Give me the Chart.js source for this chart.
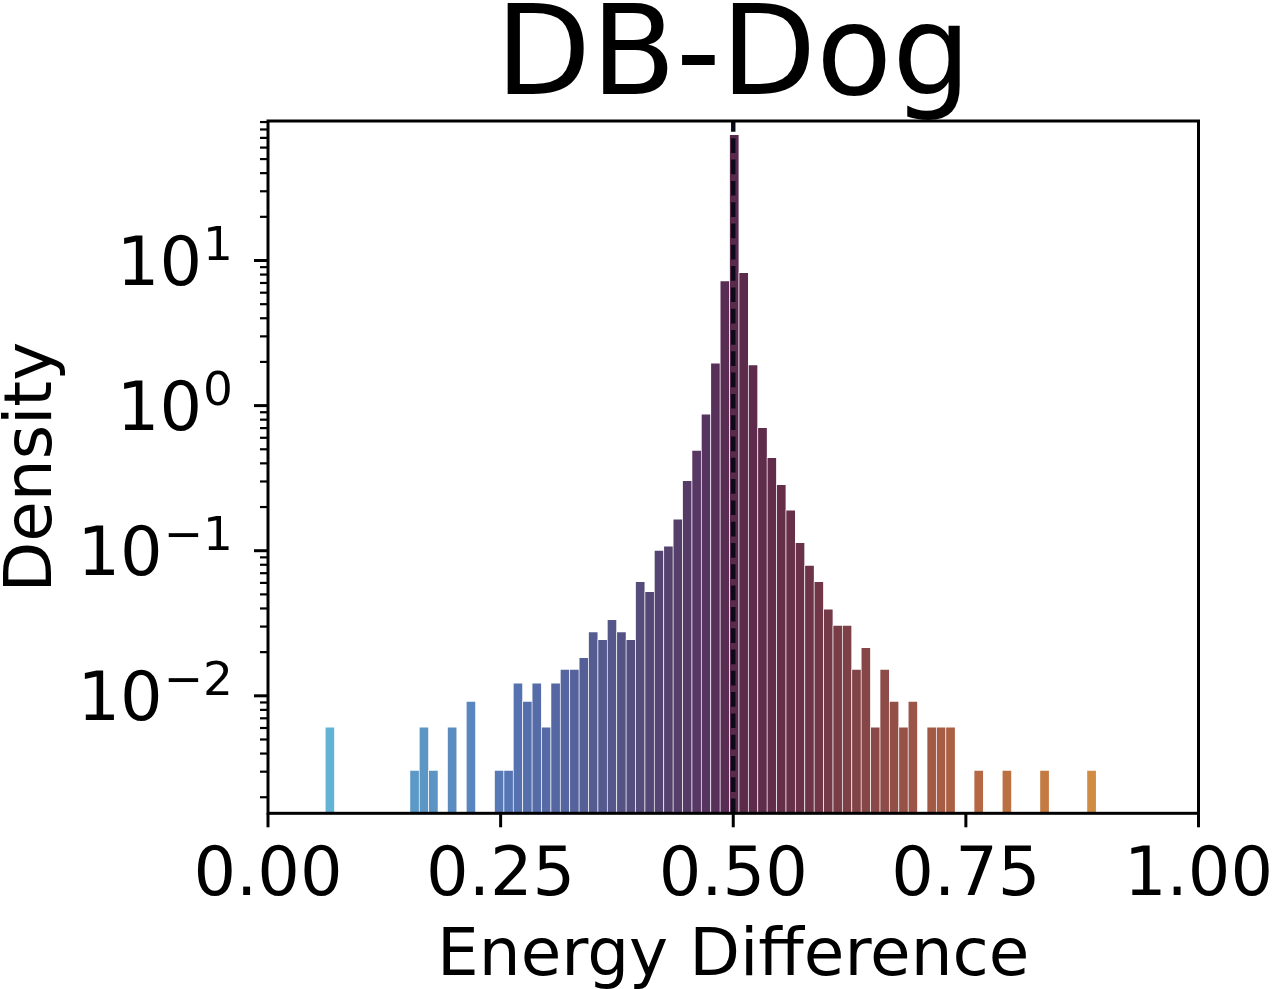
<!DOCTYPE html>
<html>
<head>
<meta charset="utf-8">
<title>DB-Dog</title>
<script src="https://cdn.jsdelivr.net/npm/chart.js@4.4.0/dist/chart.umd.min.js"></script>
<style>
  html, body { margin: 0; padding: 0; background: #fff; }
  #wrap { width: 1273px; height: 989px; position: relative; }
</style>
</head>
<body>
<div id="wrap"><canvas id="chart"></canvas></div>
<script>
// histogram of energy difference, 82 equal bins
const binStart = 0.06116;
const binWidth = 0.010105;
const density = [
  0.00612, null, null, null, null, null, null, null, null, 0.00308,
  0.00612, 0.00308, null, 0.00612, null, 0.00921, null, null, 0.00308, 0.00308,
  0.0123, 0.00921, 0.0123, 0.00612, 0.0123, 0.0153, 0.0153, 0.0184, 0.0277, 0.0245,
  0.0337, 0.0277, 0.0245, 0.0616, 0.0524, 0.101, 0.108, 0.166, 0.306, 0.493,
  0.879, 1.97, 7.26, 74.1, 8.29, 1.92, 0.708, 0.440, 0.287, 0.191,
  0.114, 0.0797, 0.0615, 0.0398, 0.0307, 0.0307, 0.0153, 0.0216, 0.00612, 0.0153,
  0.00921, 0.00612, 0.00921, null, 0.00612, 0.00612, 0.00612, null, null, 0.00308,
  null, null, 0.00308, null, null, null, 0.00308, null, null, null,
  null, 0.00308
];

const xTicks = [0, 0.25, 0.5, 0.75, 1];
const xTickLabels = ["0.00", "0.25", "0.50", "0.75", "1.00"];
const yTickExps = [-2, -1, 0, 1];
const yTickSups = ["\u22122", "\u22121", "0", "1"];
const refLine = 0.5;
const yMin = 0.00155;
const yMax = 91.5;

// colour ramp along x (light blue -> plum -> orange)
const cmap = [
  [0.066, "#63b3d5"], [0.167, "#5b96c5"], [0.218, "#5986c0"], [0.268, "#5571b0"],
  [0.319, "#55659f"], [0.369, "#55568a"], [0.420, "#554572"], [0.470, "#573460"],
  [0.501, "#5a2a4d"], [0.541, "#622d4a"], [0.582, "#6d3448"], [0.622, "#7d4047"],
  [0.662, "#8e4c48"], [0.703, "#9f5746"], [0.733, "#ab6044"], [0.763, "#b56843"],
  [0.794, "#bb7042"], [0.834, "#c47b42"], [0.885, "#d08c42"]
];

function hexRgb(h) {
  const n = parseInt(h.slice(1), 16);
  return [(n >> 16) & 255, (n >> 8) & 255, n & 255];
}

function colorAt(v) {
  if (v <= cmap[0][0]) return cmap[0][1];
  for (let i = 1; i < cmap.length; i++) {
    if (v <= cmap[i][0]) {
      const [a, ca] = cmap[i - 1];
      const [b, cb] = cmap[i];
      const t = (v - a) / (b - a);
      const p = hexRgb(ca), q = hexRgb(cb);
      const c = p.map((k, j) => Math.round(k + (q[j] - k) * t));
      return `rgb(${c[0]},${c[1]},${c[2]})`;
    }
  }
  return cmap[cmap.length - 1][1];
}

const points = density.map((d, i) => ({ x: binStart + (i + 0.5) * binWidth, y: d }));

const FONT = '"DejaVu Sans", "Liberation Sans", sans-serif';

// draws the matplotlib style frame, ticks, labels and the dashed marker
const mplAxes = {
  id: "mplAxes",
  afterDatasetsDraw(chart) {
    const { ctx, chartArea: a, scales: { x, y } } = chart;
    ctx.save();

    const rx = x.getPixelForValue(refLine);
    ctx.strokeStyle = "#0b0b18";
    ctx.lineWidth = 4.4;
    ctx.setLineDash([14.7, 6.6]);
    ctx.beginPath();
    ctx.moveTo(rx, a.bottom);
    ctx.lineTo(rx, a.top);
    ctx.stroke();
    ctx.setLineDash([]);

    ctx.strokeStyle = "#000";
    ctx.lineWidth = 3;
    ctx.strokeRect(a.left, a.top, a.right - a.left, a.bottom - a.top);

    // x ticks
    ctx.fillStyle = "#000";
    ctx.font = "67px " + FONT;
    ctx.textAlign = "center";
    ctx.textBaseline = "alphabetic";
    xTicks.forEach((t, i) => {
      const px = x.getPixelForValue(t);
      ctx.lineWidth = 3;
      ctx.beginPath();
      ctx.moveTo(px, a.bottom);
      ctx.lineTo(px, a.bottom + 14);
      ctx.stroke();
      ctx.fillText(xTickLabels[i], px, 895);
    });

    // y minor ticks
    ctx.lineWidth = 2.2;
    for (let e = -4; e <= 2; e++) {
      for (let m = 2; m <= 9; m++) {
        const v = m * Math.pow(10, e);
        if (v < yMin || v > yMax) continue;
        const py = y.getPixelForValue(v);
        ctx.beginPath();
        ctx.moveTo(a.left, py);
        ctx.lineTo(a.left - 8, py);
        ctx.stroke();
      }
    }

    // y major ticks + labels 10^k
    yTickExps.forEach((e, i) => {
      const py = y.getPixelForValue(Math.pow(10, e));
      ctx.lineWidth = 3;
      ctx.beginPath();
      ctx.moveTo(a.left, py);
      ctx.lineTo(a.left - 14, py);
      ctx.stroke();
      const right = 233;
      ctx.textAlign = "right";
      ctx.font = "47px " + FONT;
      const supW = ctx.measureText(yTickSups[i]).width;
      ctx.fillText(yTickSups[i], right, py - 0.5);
      ctx.font = "67px " + FONT;
      ctx.fillText("10", right - supW - 1, py + 24.4);
    });

    // titles
    ctx.textAlign = "center";
    const cx = (a.left + a.right) / 2;
    ctx.font = "124px " + FONT;
    ctx.fillText("DB-Dog", cx, 94);
    ctx.font = "66px " + FONT;
    ctx.fillText("Energy Difference", cx, 975);
    ctx.translate(51, (a.top + a.bottom) / 2);
    ctx.rotate(-Math.PI / 2);
    ctx.fillText("Density", 0, 0);

    ctx.restore();
  }
};

new Chart(document.getElementById("chart"), {
  type: "bar",
  data: {
    datasets: [{
      data: points,
      backgroundColor: c => colorAt(c.raw ? c.raw.x : 0),
      borderColor: "rgba(255,255,255,0.4)",
      borderWidth: { top: 1, left: 1, right: 0, bottom: 0 },
      borderSkipped: false,
      barPercentage: 1,
      categoryPercentage: 1,
      grouped: false
    }]
  },
  options: {
    responsive: true,
    maintainAspectRatio: false,
    animation: false,
    layout: { padding: { left: 268, top: 121, right: 74.5, bottom: 175.7 } },
    plugins: { legend: { display: false }, tooltip: { enabled: false }, title: { display: false } },
    scales: {
      x: { type: "linear", min: 0, max: 1, offset: false, display: false },
      y: { type: "logarithmic", min: yMin, max: yMax, bounds: "data", display: false }
    }
  },
  plugins: [mplAxes]
});
</script>
</body>
</html>
